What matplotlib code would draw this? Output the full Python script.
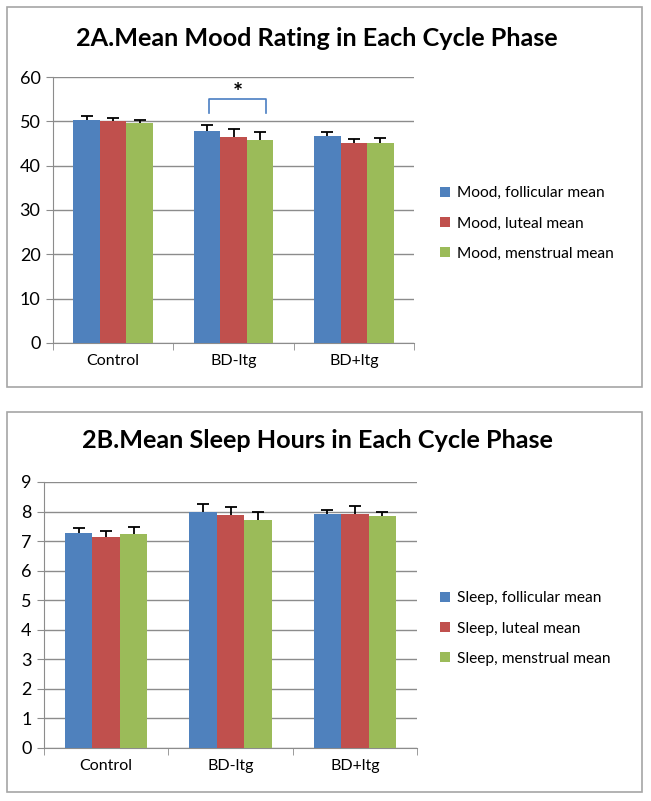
import numpy as np
import matplotlib
matplotlib.use('Agg')
import matplotlib.pyplot as plt
from matplotlib.patches import Rectangle

plt.rcParams['font.family'] = ['Lato', 'DejaVu Sans']

# Datos
grupos = ['Control', 'BD-ltg', 'BD+ltg']
colores = ['#4F81BD', '#C0504D', '#9BBB59']

mood_labels = ['Mood, follicular mean', 'Mood, luteal mean', 'Mood, menstrual mean']
mood_means = [[50.4, 47.8, 46.7],
              [50.0, 46.4, 45.0],
              [49.7, 45.7, 45.2]]
mood_err = [[0.7, 1.4, 1.0],
            [0.7, 1.8, 1.1],
            [0.6, 1.9, 1.0]]

sleep_labels = ['Sleep, follicular mean', 'Sleep, luteal mean', 'Sleep, menstrual mean']
sleep_means = [[7.29, 7.99, 7.91],
               [7.15, 7.90, 7.91],
               [7.23, 7.71, 7.84]]
sleep_err = [[0.17, 0.28, 0.14],
             [0.18, 0.24, 0.28],
             [0.25, 0.28, 0.16]]

W, H = 651, 801
fig = plt.figure(figsize=(W / 100, H / 100), dpi=100)


def fx(px):
    return px / W


def fy(py):
    return 1 - py / H


def panel(ax, means, errs, labels, ymax, paso, titulo, ty, leg_y):
    x = np.arange(len(grupos))
    ancho = 0.22
    barras = []
    for i in range(3):
        xi = x + (i - 1) * ancho
        b = ax.bar(xi, means[i], ancho, color=colores[i], label=labels[i], zorder=3)
        barras.append(b)
        # barras de error solo hacia arriba (estilo Excel)
        tope = np.array(means[i]) + np.array(errs[i])
        ax.vlines(xi, means[i], tope, color='black', linewidth=1.3, zorder=4)
        ax.plot(xi, tope, linestyle='none', marker='_', markersize=8,
                markeredgewidth=1.3, color='black', zorder=4)
    ax.set_xlim(-0.5, 2.5)
    ax.set_ylim(0, ymax)
    ax.set_yticks(np.arange(0, ymax + paso / 2, paso))
    ax.yaxis.grid(True, color='#8C8C8C', linewidth=1, zorder=0)
    ax.set_axisbelow(True)
    for s in ['top', 'right']:
        ax.spines[s].set_visible(False)
    for s in ['left', 'bottom']:
        ax.spines[s].set_color('#8C8C8C')
    ax.set_xticks(x)
    ax.set_xticklabels(grupos, fontsize=11.5)
    ax.tick_params(axis='x', length=0, pad=8)
    ax.set_xticks([0.5, 1.5, 2.5, -0.5], minor=True)
    ax.tick_params(axis='x', which='minor', length=5, color='#8C8C8C')
    ax.tick_params(axis='y', length=5, color='#8C8C8C', labelsize=13, pad=4)
    fig.text(fx(317), fy(ty), titulo, ha='center', va='center',
             fontsize=18.2, fontweight='bold')
    fig.legend(handles=barras, loc='upper left', bbox_to_anchor=(fx(434), fy(leg_y)),
               frameon=False, fontsize=11.2, handlelength=0.6, handleheight=0.6,
               handletextpad=0.5, labelspacing=1.05, borderaxespad=0)


# Panel A
axA = fig.add_axes([fx(53), fy(343), fx(414) - fx(53), fy(77) - fy(343)])
panel(axA, mood_means, mood_err, mood_labels, 60, 10,
      '2A.Mean Mood Rating in Each Cycle Phase', 38, 180)
# corchete de significancia
xb0, xb1 = 1 - 0.2, 1 + 0.27
axA.plot([xb0, xb0, xb1, xb1], [51.8, 55.1, 55.1, 51.8], color='#4A7EC2',
         linewidth=1.2, clip_on=False)
axA.text((xb0 + xb1) / 2, 56.2, '*', ha='center', va='center', fontsize=17,
         fontweight='bold')

# Panel B
axB = fig.add_axes([fx(44), fy(748), fx(417) - fx(44), fy(482) - fy(748)])
panel(axB, sleep_means, sleep_err, sleep_labels, 9, 1,
      '2B.Mean Sleep Hours in Each Cycle Phase', 441, 585)

# marcos
for y0, y1 in [(7, 387), (412, 792)]:
    fig.patches.append(Rectangle((fx(7), fy(y1)), fx(642) - fx(7), fy(y0) - fy(y1),
                                 transform=fig.transFigure, fill=False,
                                 edgecolor='#A6A6A6', linewidth=1.2))

fig.savefig('out.png', dpi=100)
